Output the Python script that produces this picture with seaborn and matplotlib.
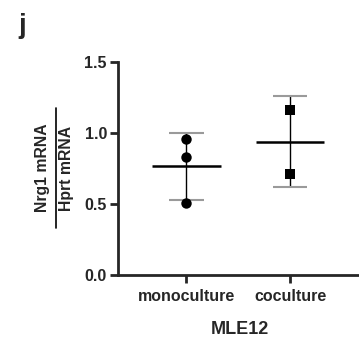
import numpy as np
import pandas as pd
import matplotlib
matplotlib.use("Agg")
import matplotlib.pyplot as plt
from matplotlib.lines import Line2D
import seaborn as sns

categories = ["monoculture", "coculture"]
mono_values = [0.958, 0.833, 0.505]
cocult_values = [1.164, 0.713]
y_ticks = [0.0, 0.5, 1.0, 1.5]
y_tick_labels = ["0.0", "0.5", "1.0", "1.5"]

sns.set_style("ticks")
plt.rcParams["font.family"] = ["Liberation Sans", "DejaVu Sans"]
plt.rcParams["font.weight"] = "bold"

df = pd.DataFrame({
    "group": [categories[0]] * len(mono_values) + [categories[1]] * len(cocult_values),
    "value": mono_values + cocult_values,
})

fig = plt.figure(figsize=(3.59, 3.38), dpi=100)
ax = fig.add_axes([118 / 359, 1 - 275 / 338, 1 - 118 / 359 + 0.01, (275 - 62) / 338])

markers = ["o", "s"]
sizes = [7.5, 7]
for i, cat in enumerate(categories):
    sub = df[df.group == cat]
    sns.stripplot(data=sub, x="group", y="value", order=categories, jitter=False,
                  marker=markers[i], size=sizes[i], color="black", ax=ax, zorder=4)

for i, cat in enumerate(categories):
    vals = df[df.group == cat]["value"].to_numpy()
    m = vals.mean()
    sd = vals.std(ddof=1)
    ax.vlines(i, m - sd, m + sd, color="black", lw=1, zorder=2)
    ax.hlines([m - sd, m + sd], i - 0.165, i + 0.165, color="#9a9a9a", lw=1.5, zorder=2)
    ax.hlines(m, i - 0.33, i + 0.33, color="black", lw=1.8, zorder=3)

ax.set_xlim(-0.66, 1.70)
ax.set_ylim(0, 1.5)
ax.set_yticks(y_ticks)
ax.set_yticklabels(y_tick_labels, fontsize=11.5, fontweight="bold")
ax.set_xticks([0, 1])
ax.set_xticklabels(categories, fontsize=11.5, fontweight="bold")
ax.set_xlabel("MLE12", fontsize=13, fontweight="bold", labelpad=12)
ax.set_ylabel("")
sns.despine(ax=ax)
for s in ["left", "bottom"]:
    ax.spines[s].set_linewidth(2)
ax.spines["bottom"].set_clip_on(False)
ax.tick_params(axis="both", width=2, length=6, direction="out", pad=2)
ax.tick_params(axis="x", pad=4)
ax.patch.set_alpha(0)

# fraction-style y label
fig.text(43 / 359, 1 - 168 / 338, "Nrg1 mRNA", rotation=90, ha="center", va="center",
         fontsize=11.3, fontweight="bold")
fig.text(67 / 359, 1 - 168 / 338, "Hprt mRNA", rotation=90, ha="center", va="center",
         fontsize=11.3, fontweight="bold")
fig.add_artist(Line2D([56 / 359, 56 / 359], [1 - 108 / 338, 1 - 228 / 338],
                      transform=fig.transFigure, color="black", lw=1.2))

fig.text(22 / 359, 1 - 26 / 338, "j", ha="center", va="center", fontsize=20, fontweight="bold")

fig.savefig("out.png", dpi=100)
